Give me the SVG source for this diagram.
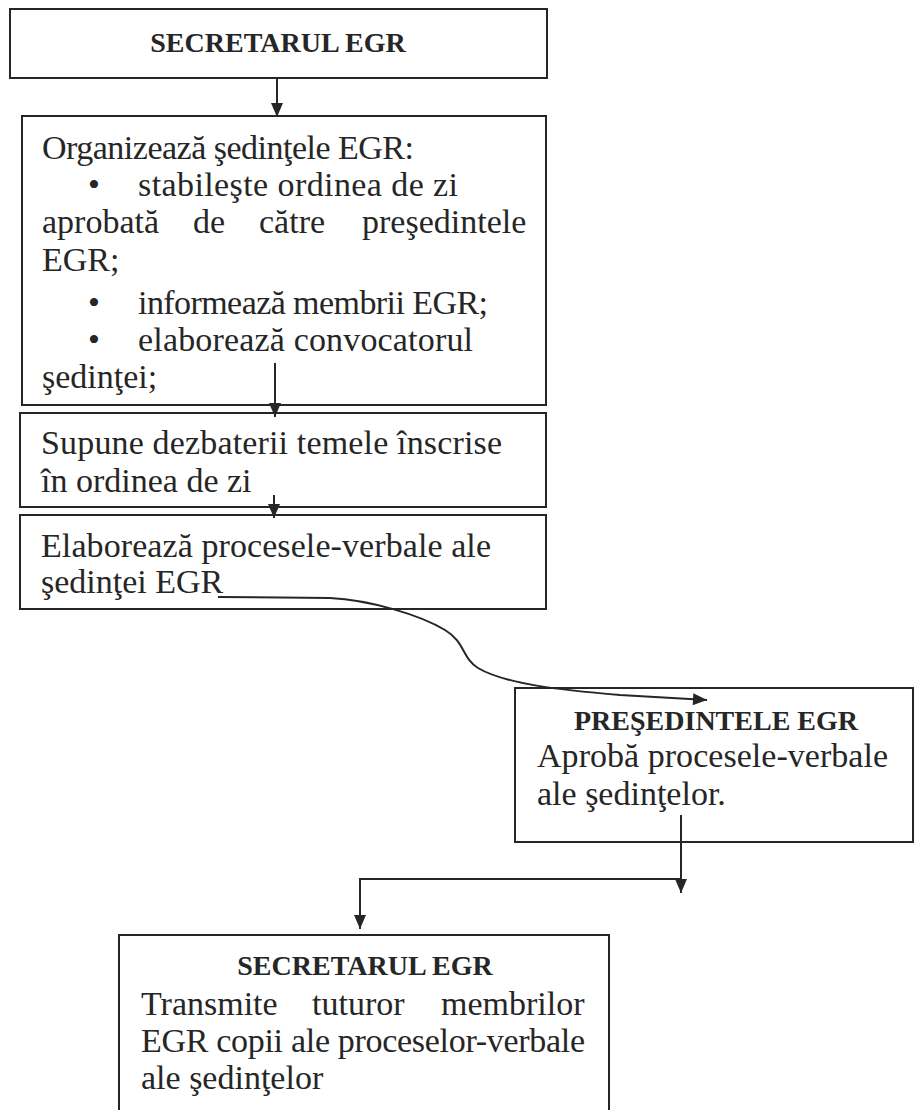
<svg xmlns="http://www.w3.org/2000/svg" width="915" height="1110" viewBox="0 0 915 1110">
<style>
.box{fill:none;stroke:#262626;stroke-width:2}
.t{font-family:"Liberation Serif","DejaVu Serif",serif;font-size:34px;fill:#262626}
.b{font-family:"Liberation Serif","DejaVu Serif",serif;font-size:28px;font-weight:bold;fill:#262626}
.c{fill:none;stroke:#262626;stroke-width:2}
</style>
<defs>
<marker id="ah" markerUnits="userSpaceOnUse" markerWidth="16" markerHeight="16" viewBox="0 0 16 16" refX="15" refY="8" orient="auto">
<path d="M1,2 L15,8 L1,14 Z" fill="#262626"/>
</marker>
</defs>
<rect width="915" height="1110" fill="#ffffff"/>
<g id="n1">
<rect class="box" x="10" y="9" width="537" height="69"/>
<text class="b" x="278" y="52" text-anchor="middle">SECRETARUL EGR</text>
</g>
<g id="n2">
<rect class="box" x="22" y="116" width="524" height="289"/>
<text class="t" x="42" y="159" textLength="372">Organizează şedinţele EGR:</text>
<text class="t" x="88" y="196">•</text>
<text class="t" x="138" y="196" textLength="320">stabileşte ordinea de zi</text>
<text class="t" y="233"><tspan x="42">aprobată</tspan><tspan x="193">de</tspan><tspan x="259">către</tspan><tspan x="362">preşedintele</tspan></text>
<text class="t" x="42" y="271">EGR;</text>
<text class="t" x="88" y="314">•</text>
<text class="t" x="138" y="314" textLength="350">informează membrii EGR;</text>
<text class="t" x="88" y="351">•</text>
<text class="t" x="138" y="351" textLength="335">elaborează convocatorul</text>
<text class="t" x="42" y="388">şedinţei;</text>
</g>
<g id="n3">
<rect class="box" x="20" y="413" width="526" height="94"/>
<text class="t" x="41" y="454" textLength="461">Supune dezbaterii temele înscrise</text>
<text class="t" x="41" y="492">în ordinea de zi</text>
</g>
<g id="n4">
<rect class="box" x="20" y="515" width="526" height="94"/>
<text class="t" x="41" y="557" textLength="450">Elaborează procesele-verbale ale</text>
<text class="t" x="41" y="593">şedinţei EGR</text>
</g>
<g id="n5">
<rect class="box" x="515" y="688" width="398" height="154"/>
<text class="b" x="716" y="730" text-anchor="middle">PREŞEDINTELE EGR</text>
<text class="t" x="537" y="767" textLength="351">Aprobă procesele-verbale</text>
<text class="t" x="537" y="805">ale şedinţelor.</text>
</g>
<g id="n6">
<rect class="box" x="119" y="935" width="490" height="185"/>
<text class="b" x="365" y="975" text-anchor="middle">SECRETARUL EGR</text>
<text class="t" y="1015"><tspan x="141">Transmite</tspan><tspan x="312">tuturor</tspan><tspan x="441">membrilor</tspan></text>
<text class="t" x="141" y="1052" textLength="444">EGR copii ale proceselor-verbale</text>
<text class="t" x="141" y="1089">ale şedinţelor</text>
</g>
<g id="connectors">
<path class="c" d="M277,78 L277,117" marker-end="url(#ah)"/>
<path class="c" d="M275,363 L275,417" marker-end="url(#ah)"/>
<path class="c" d="M274,495 L274,518" marker-end="url(#ah)"/>
<path class="c" d="M218,597 L330,598 C370,600 420,615 445,630 C465,642 462,658 478,668 C505,684 560,690 620,695 L707,700" marker-end="url(#ah)"/>
<path class="c" d="M681,815 L681,893" marker-end="url(#ah)"/>
<path class="c" d="M681,879 L360,879 L360,929" marker-end="url(#ah)"/>
</g>
</svg>
